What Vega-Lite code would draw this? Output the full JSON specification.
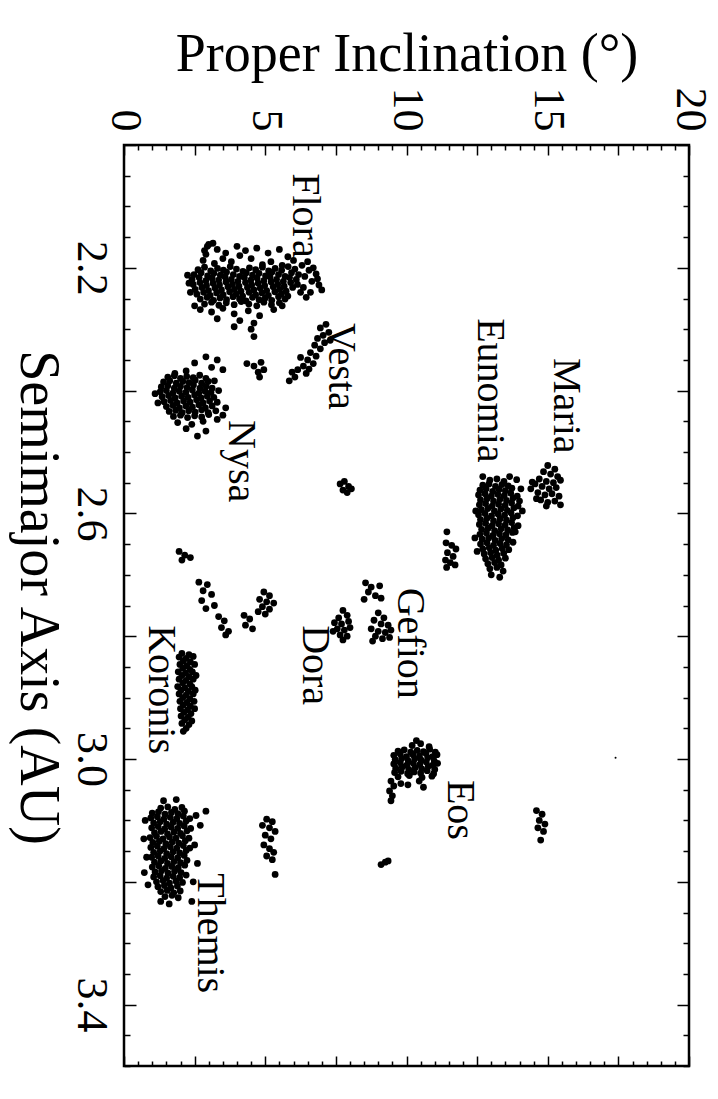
{
"$schema": "https://vega.github.io/schema/vega-lite/v6.json",
"width": 565, "height": 921,
"autosize": {"type": "none"},
"padding": {"left": 124, "top": 145, "right": 29, "bottom": 33},
"background": "white",
"config": {
 "view": {"stroke": "black", "strokeWidth": 2.5},
 "font": "Liberation Serif",
 "axis": {"domain": false, "grid": false, "tickColor": "black", "tickWidth": 1.5, "labelColor": "black", "titleColor": "black", "labelFont": "Liberation Serif", "titleFont": "Liberation Serif", "labelFontSize": 44, "titleFontSize": 54, "titleFontWeight": "normal", "labelOverlap": false, "labelFlush": false, "labelBound": false}
},
"datasets": {
 "speck": [{"inc": 17.4, "a": 2.998}],
 "lbl": [
  {"name": "Flora", "inc": 6.4, "a": 2.046},
  {"name": "Vesta", "inc": 7.68, "a": 2.29},
  {"name": "Maria", "inc": 15.65, "a": 2.347},
  {"name": "Eunomia", "inc": 12.96, "a": 2.282},
  {"name": "Nysa", "inc": 4.14, "a": 2.448},
  {"name": "Gefion", "inc": 10.12, "a": 2.721},
  {"name": "Dora", "inc": 6.76, "a": 2.782},
  {"name": "Koronis", "inc": 1.31, "a": 2.782},
  {"name": "Eos", "inc": 11.89, "a": 3.034},
  {"name": "Themis", "inc": 3.04, "a": 3.186}
 ],
 "pts": [
  {"inc":3.0,"a":2.162},{"inc":3.3,"a":2.170},{"inc":2.9,"a":2.178},{"inc":3.5,"a":2.185},{"inc":4.0,"a":2.165},{"inc":4.3,"a":2.172},{"inc":4.7,"a":2.168},{"inc":5.1,"a":2.176},{"inc":5.5,"a":2.170},{"inc":5.8,"a":2.182},{"inc":4.5,"a":2.185},{"inc":3.8,"a":2.190},{"inc":5.2,"a":2.190},{"inc":6.0,"a":2.188},{"inc":3.2,"a":2.193},{"inc":4.9,"a":2.195},{"inc":5.6,"a":2.196},{"inc":2.8,"a":2.188},{"inc":4.1,"a":2.180},{"inc":3.6,"a":2.176},
  {"inc":2.62,"a":2.203},{"inc":2.85,"a":2.199},{"inc":3.07,"a":2.205},{"inc":3.31,"a":2.201},{"inc":3.52,"a":2.204},{"inc":3.76,"a":2.198},{"inc":3.98,"a":2.202},{"inc":4.21,"a":2.206},{"inc":4.44,"a":2.200},{"inc":4.66,"a":2.203},{"inc":4.90,"a":2.199},{"inc":5.12,"a":2.205},{"inc":5.35,"a":2.201},{"inc":5.58,"a":2.204},{"inc":5.81,"a":2.198},{"inc":6.05,"a":2.202},
  {"inc":2.48,"a":2.211},{"inc":2.73,"a":2.208},{"inc":2.96,"a":2.213},{"inc":3.18,"a":2.209},{"inc":3.41,"a":2.212},{"inc":3.63,"a":2.207},{"inc":3.87,"a":2.211},{"inc":4.09,"a":2.214},{"inc":4.33,"a":2.208},{"inc":4.55,"a":2.212},{"inc":4.78,"a":2.209},{"inc":5.01,"a":2.213},{"inc":5.24,"a":2.207},{"inc":5.47,"a":2.211},{"inc":5.70,"a":2.214},{"inc":5.93,"a":2.208},{"inc":6.18,"a":2.211},
  {"inc":2.41,"a":2.219},{"inc":2.66,"a":2.216},{"inc":2.90,"a":2.221},{"inc":3.12,"a":2.217},{"inc":3.35,"a":2.220},{"inc":3.58,"a":2.215},{"inc":3.80,"a":2.219},{"inc":4.03,"a":2.222},{"inc":4.26,"a":2.216},{"inc":4.49,"a":2.220},{"inc":4.71,"a":2.217},{"inc":4.95,"a":2.221},{"inc":5.17,"a":2.215},{"inc":5.40,"a":2.219},{"inc":5.64,"a":2.222},{"inc":5.86,"a":2.216},{"inc":6.10,"a":2.219},
  {"inc":2.45,"a":2.227},{"inc":2.69,"a":2.224},{"inc":2.92,"a":2.229},{"inc":3.15,"a":2.225},{"inc":3.38,"a":2.228},{"inc":3.61,"a":2.223},{"inc":3.84,"a":2.227},{"inc":4.07,"a":2.230},{"inc":4.30,"a":2.224},{"inc":4.52,"a":2.228},{"inc":4.75,"a":2.225},{"inc":4.98,"a":2.229},{"inc":5.21,"a":2.223},{"inc":5.44,"a":2.227},{"inc":5.67,"a":2.230},{"inc":5.90,"a":2.224},{"inc":6.14,"a":2.227},
  {"inc":2.52,"a":2.235},{"inc":2.76,"a":2.232},{"inc":2.99,"a":2.237},{"inc":3.22,"a":2.233},{"inc":3.45,"a":2.236},{"inc":3.68,"a":2.231},{"inc":3.91,"a":2.235},{"inc":4.14,"a":2.238},{"inc":4.37,"a":2.232},{"inc":4.60,"a":2.236},{"inc":4.82,"a":2.233},{"inc":5.05,"a":2.237},{"inc":5.28,"a":2.231},{"inc":5.51,"a":2.235},{"inc":5.74,"a":2.238},{"inc":5.97,"a":2.232},
  {"inc":2.58,"a":2.243},{"inc":2.82,"a":2.240},{"inc":3.05,"a":2.245},{"inc":3.28,"a":2.241},{"inc":3.51,"a":2.244},{"inc":3.74,"a":2.239},{"inc":3.97,"a":2.243},{"inc":4.20,"a":2.246},{"inc":4.43,"a":2.240},{"inc":4.66,"a":2.244},{"inc":4.88,"a":2.241},{"inc":5.11,"a":2.245},{"inc":5.34,"a":2.239},{"inc":5.57,"a":2.243},{"inc":5.80,"a":2.246},
  {"inc":2.70,"a":2.251},{"inc":2.94,"a":2.248},{"inc":3.17,"a":2.253},{"inc":3.40,"a":2.249},{"inc":3.63,"a":2.252},{"inc":3.86,"a":2.247},{"inc":4.09,"a":2.251},{"inc":4.32,"a":2.254},{"inc":4.55,"a":2.248},{"inc":4.78,"a":2.252},{"inc":5.00,"a":2.249},{"inc":5.23,"a":2.253},{"inc":5.47,"a":2.247},{"inc":5.70,"a":2.251},
  {"inc":2.85,"a":2.259},{"inc":3.10,"a":2.256},{"inc":3.36,"a":2.261},{"inc":3.62,"a":2.257},{"inc":3.90,"a":2.260},{"inc":4.15,"a":2.255},{"inc":4.42,"a":2.259},{"inc":4.70,"a":2.262},{"inc":4.95,"a":2.256},{"inc":5.22,"a":2.260},{"inc":5.50,"a":2.257},
  {"inc":2.7,"a":2.268},{"inc":3.1,"a":2.272},{"inc":3.5,"a":2.266},{"inc":3.9,"a":2.275},{"inc":4.4,"a":2.270},{"inc":4.8,"a":2.278},{"inc":5.3,"a":2.268},{"inc":3.3,"a":2.283},{"inc":4.1,"a":2.286},{"inc":2.5,"a":2.262},{"inc":5.6,"a":2.262},{"inc":4.6,"a":2.290},
  {"inc":6.30,"a":2.196},{"inc":6.55,"a":2.204},{"inc":6.80,"a":2.210},{"inc":6.40,"a":2.214},{"inc":6.65,"a":2.222},{"inc":6.90,"a":2.228},{"inc":6.35,"a":2.232},{"inc":6.60,"a":2.240},{"inc":6.85,"a":2.218},{"inc":6.45,"a":2.248},{"inc":7.00,"a":2.236},{"inc":6.25,"a":2.240},{"inc":6.70,"a":2.200},{"inc":6.50,"a":2.190},
  {"inc":2.30,"a":2.225},{"inc":2.35,"a":2.240},{"inc":2.25,"a":2.212},{"inc":2.95,"a":2.165},{"inc":3.15,"a":2.160},{"inc":2.85,"a":2.172},{"inc":4.5,"a":2.300},{"inc":4.6,"a":2.312},{"inc":3.9,"a":2.296},
  {"inc":7.15,"a":2.292},{"inc":6.95,"a":2.298},{"inc":7.25,"a":2.305},{"inc":7.05,"a":2.310},{"inc":6.85,"a":2.315},{"inc":7.10,"a":2.322},{"inc":6.75,"a":2.326},{"inc":6.95,"a":2.332},{"inc":6.60,"a":2.338},{"inc":6.80,"a":2.344},{"inc":6.50,"a":2.350},{"inc":6.70,"a":2.356},{"inc":6.35,"a":2.360},{"inc":6.15,"a":2.366},{"inc":6.45,"a":2.372},{"inc":6.05,"a":2.378},{"inc":5.85,"a":2.384},{"inc":6.25,"a":2.346},{"inc":7.30,"a":2.318},{"inc":6.55,"a":2.365},{"inc":5.95,"a":2.370},
  {"inc":4.35,"a":2.356},{"inc":4.60,"a":2.360},{"inc":4.85,"a":2.354},{"inc":4.95,"a":2.366},{"inc":4.75,"a":2.370},{"inc":4.80,"a":2.378},
  {"inc":2.9,"a":2.345},{"inc":3.3,"a":2.350},{"inc":2.5,"a":2.355},{"inc":3.1,"a":2.362},{"inc":2.2,"a":2.368},{"inc":3.5,"a":2.366},{"inc":1.8,"a":2.372},
  {"inc":1.55,"a":2.378},{"inc":1.78,"a":2.376},{"inc":2.00,"a":2.380},{"inc":2.22,"a":2.377},{"inc":2.45,"a":2.379},{"inc":2.68,"a":2.375},{"inc":2.90,"a":2.380},
  {"inc":1.40,"a":2.386},{"inc":1.62,"a":2.384},{"inc":1.85,"a":2.388},{"inc":2.08,"a":2.385},{"inc":2.30,"a":2.387},{"inc":2.52,"a":2.383},{"inc":2.75,"a":2.388},{"inc":2.98,"a":2.385},{"inc":3.20,"a":2.384},
  {"inc":1.32,"a":2.394},{"inc":1.55,"a":2.392},{"inc":1.78,"a":2.396},{"inc":2.00,"a":2.393},{"inc":2.23,"a":2.395},{"inc":2.46,"a":2.391},{"inc":2.69,"a":2.396},{"inc":2.91,"a":2.393},{"inc":3.12,"a":2.396},
  {"inc":1.28,"a":2.402},{"inc":1.50,"a":2.400},{"inc":1.73,"a":2.404},{"inc":1.96,"a":2.401},{"inc":2.19,"a":2.403},{"inc":2.42,"a":2.399},{"inc":2.65,"a":2.404},{"inc":2.87,"a":2.401},{"inc":3.08,"a":2.403},{"inc":3.35,"a":2.400},
  {"inc":1.35,"a":2.410},{"inc":1.58,"a":2.408},{"inc":1.81,"a":2.412},{"inc":2.04,"a":2.409},{"inc":2.27,"a":2.411},{"inc":2.50,"a":2.407},{"inc":2.73,"a":2.412},{"inc":2.95,"a":2.409},{"inc":3.18,"a":2.411},
  {"inc":1.42,"a":2.418},{"inc":1.65,"a":2.416},{"inc":1.88,"a":2.420},{"inc":2.11,"a":2.417},{"inc":2.34,"a":2.419},{"inc":2.57,"a":2.415},{"inc":2.80,"a":2.420},{"inc":3.03,"a":2.417},{"inc":3.30,"a":2.419},
  {"inc":1.50,"a":2.426},{"inc":1.73,"a":2.424},{"inc":1.96,"a":2.428},{"inc":2.19,"a":2.425},{"inc":2.42,"a":2.427},{"inc":2.65,"a":2.423},{"inc":2.88,"a":2.428},{"inc":3.12,"a":2.425},
  {"inc":1.60,"a":2.434},{"inc":1.83,"a":2.432},{"inc":2.06,"a":2.436},{"inc":2.29,"a":2.433},{"inc":2.52,"a":2.435},{"inc":2.75,"a":2.431},{"inc":2.98,"a":2.436},{"inc":3.25,"a":2.433},
  {"inc":1.75,"a":2.442},{"inc":2.00,"a":2.440},{"inc":2.25,"a":2.444},{"inc":2.50,"a":2.441},{"inc":2.75,"a":2.443},{"inc":3.00,"a":2.439},
  {"inc":1.9,"a":2.452},{"inc":2.4,"a":2.455},{"inc":2.8,"a":2.450},{"inc":3.3,"a":2.447},{"inc":2.2,"a":2.462},{"inc":2.9,"a":2.466},{"inc":3.5,"a":2.440},{"inc":1.2,"a":2.420},{"inc":1.1,"a":2.405},{"inc":3.6,"a":2.428},{"inc":2.6,"a":2.474},
  {"inc":7.65,"a":2.552},{"inc":7.80,"a":2.548},{"inc":7.95,"a":2.556},{"inc":7.75,"a":2.562},{"inc":7.90,"a":2.566},{"inc":8.05,"a":2.560},
  {"inc":15.0,"a":2.522},{"inc":15.25,"a":2.528},{"inc":14.85,"a":2.532},{"inc":15.10,"a":2.536},{"inc":15.35,"a":2.540},{"inc":14.70,"a":2.544},{"inc":14.95,"a":2.548},{"inc":15.20,"a":2.550},{"inc":15.45,"a":2.546},{"inc":14.55,"a":2.552},{"inc":14.80,"a":2.556},{"inc":15.05,"a":2.560},{"inc":15.30,"a":2.558},{"inc":14.40,"a":2.560},{"inc":14.65,"a":2.566},{"inc":14.90,"a":2.570},{"inc":15.15,"a":2.568},{"inc":15.40,"a":2.572},{"inc":14.75,"a":2.578},{"inc":15.00,"a":2.582},{"inc":15.25,"a":2.580},{"inc":14.60,"a":2.576},{"inc":15.45,"a":2.586},{"inc":14.95,"a":2.588},{"inc":14.45,"a":2.549},
  {"inc":12.95,"a":2.546},{"inc":13.20,"a":2.544},{"inc":13.45,"a":2.548},
  {"inc":12.70,"a":2.554},{"inc":12.92,"a":2.552},{"inc":13.15,"a":2.556},{"inc":13.38,"a":2.553},{"inc":13.60,"a":2.555},
  {"inc":12.60,"a":2.562},{"inc":12.82,"a":2.560},{"inc":13.05,"a":2.564},{"inc":13.28,"a":2.561},{"inc":13.50,"a":2.563},{"inc":13.73,"a":2.559},
  {"inc":12.55,"a":2.570},{"inc":12.78,"a":2.568},{"inc":13.00,"a":2.572},{"inc":13.23,"a":2.569},{"inc":13.46,"a":2.571},{"inc":13.69,"a":2.567},{"inc":13.92,"a":2.572},
  {"inc":12.62,"a":2.578},{"inc":12.85,"a":2.576},{"inc":13.08,"a":2.580},{"inc":13.31,"a":2.577},{"inc":13.54,"a":2.579},{"inc":13.77,"a":2.575},{"inc":14.00,"a":2.580},
  {"inc":12.58,"a":2.586},{"inc":12.80,"a":2.584},{"inc":13.03,"a":2.588},{"inc":13.26,"a":2.585},{"inc":13.49,"a":2.587},{"inc":13.72,"a":2.583},{"inc":13.95,"a":2.588},
  {"inc":12.65,"a":2.594},{"inc":12.88,"a":2.592},{"inc":13.11,"a":2.596},{"inc":13.34,"a":2.593},{"inc":13.57,"a":2.595},{"inc":13.80,"a":2.591},
  {"inc":12.55,"a":2.602},{"inc":12.78,"a":2.600},{"inc":13.01,"a":2.604},{"inc":13.24,"a":2.601},{"inc":13.47,"a":2.603},{"inc":13.70,"a":2.599},{"inc":13.93,"a":2.604},
  {"inc":12.62,"a":2.610},{"inc":12.85,"a":2.608},{"inc":13.08,"a":2.612},{"inc":13.31,"a":2.609},{"inc":13.54,"a":2.611},{"inc":13.77,"a":2.607},
  {"inc":12.58,"a":2.618},{"inc":12.80,"a":2.616},{"inc":13.03,"a":2.620},{"inc":13.26,"a":2.617},{"inc":13.49,"a":2.619},{"inc":13.72,"a":2.615},{"inc":13.95,"a":2.620},
  {"inc":12.66,"a":2.626},{"inc":12.89,"a":2.624},{"inc":13.12,"a":2.628},{"inc":13.35,"a":2.625},{"inc":13.58,"a":2.627},{"inc":13.81,"a":2.623},
  {"inc":12.60,"a":2.634},{"inc":12.83,"a":2.632},{"inc":13.06,"a":2.636},{"inc":13.29,"a":2.633},{"inc":13.52,"a":2.635},{"inc":13.75,"a":2.631},
  {"inc":12.68,"a":2.642},{"inc":12.91,"a":2.640},{"inc":13.14,"a":2.644},{"inc":13.37,"a":2.641},{"inc":13.60,"a":2.643},
  {"inc":12.62,"a":2.650},{"inc":12.85,"a":2.648},{"inc":13.08,"a":2.652},{"inc":13.31,"a":2.649},{"inc":13.54,"a":2.651},{"inc":13.77,"a":2.647},
  {"inc":12.70,"a":2.658},{"inc":12.93,"a":2.656},{"inc":13.16,"a":2.660},{"inc":13.39,"a":2.657},{"inc":13.62,"a":2.659},
  {"inc":12.75,"a":2.666},{"inc":12.98,"a":2.664},{"inc":13.21,"a":2.668},{"inc":13.44,"a":2.665},
  {"inc":12.80,"a":2.674},{"inc":13.03,"a":2.672},{"inc":13.26,"a":2.676},{"inc":13.50,"a":2.673},
  {"inc":12.88,"a":2.682},{"inc":13.12,"a":2.680},{"inc":13.35,"a":2.684},
  {"inc":12.95,"a":2.690},{"inc":13.20,"a":2.688},{"inc":13.42,"a":2.694},
  {"inc":13.0,"a":2.700},{"inc":13.3,"a":2.704},{"inc":12.45,"a":2.596},{"inc":12.42,"a":2.640},{"inc":14.10,"a":2.596},{"inc":14.05,"a":2.560},{"inc":13.90,"a":2.545},{"inc":12.50,"a":2.662},{"inc":13.85,"a":2.630},{"inc":12.70,"a":2.540},{"inc":13.65,"a":2.540},
  {"inc":11.43,"a":2.630},{"inc":11.40,"a":2.648},{"inc":11.60,"a":2.652},{"inc":11.75,"a":2.658},{"inc":11.45,"a":2.664},{"inc":11.65,"a":2.670},{"inc":11.38,"a":2.676},{"inc":11.55,"a":2.680},{"inc":11.72,"a":2.684},{"inc":11.42,"a":2.688},
  {"inc":8.55,"a":2.713},{"inc":8.75,"a":2.720},{"inc":9.05,"a":2.718},{"inc":8.65,"a":2.728},{"inc":8.90,"a":2.734},{"inc":9.10,"a":2.738},{"inc":8.50,"a":2.740},
  {"inc":9.0,"a":2.762},{"inc":9.20,"a":2.770},{"inc":8.85,"a":2.774},{"inc":9.10,"a":2.780},{"inc":9.35,"a":2.782},{"inc":8.75,"a":2.788},{"inc":9.00,"a":2.792},{"inc":9.25,"a":2.794},{"inc":9.45,"a":2.790},{"inc":8.90,"a":2.800},{"inc":9.15,"a":2.804},{"inc":8.80,"a":2.808},{"inc":9.40,"a":2.802},
  {"inc":7.75,"a":2.758},{"inc":7.90,"a":2.766},{"inc":7.60,"a":2.770},{"inc":7.45,"a":2.778},{"inc":7.70,"a":2.780},{"inc":7.95,"a":2.776},{"inc":7.55,"a":2.788},{"inc":7.80,"a":2.790},{"inc":8.00,"a":2.786},{"inc":7.65,"a":2.798},{"inc":7.90,"a":2.800},{"inc":7.40,"a":2.792},{"inc":7.75,"a":2.806},
  {"inc":1.95,"a":2.662},{"inc":2.15,"a":2.668},{"inc":2.35,"a":2.672},{"inc":2.05,"a":2.676},
  {"inc":2.65,"a":2.712},{"inc":2.95,"a":2.716},{"inc":2.80,"a":2.726},{"inc":3.10,"a":2.732},{"inc":2.75,"a":2.742},{"inc":3.20,"a":2.750},{"inc":2.90,"a":2.755},
  {"inc":3.35,"a":2.768},{"inc":3.55,"a":2.775},{"inc":3.45,"a":2.786},{"inc":3.70,"a":2.792},{"inc":3.60,"a":2.798},
  {"inc":4.25,"a":2.766},{"inc":4.45,"a":2.772},{"inc":4.30,"a":2.782},{"inc":4.55,"a":2.788},
  {"inc":4.95,"a":2.728},{"inc":5.15,"a":2.734},{"inc":4.80,"a":2.740},{"inc":5.05,"a":2.744},{"inc":5.30,"a":2.746},{"inc":4.90,"a":2.752},{"inc":5.15,"a":2.756},{"inc":4.75,"a":2.760},{"inc":5.00,"a":2.764},
  {"inc":2.05,"a":2.828},{"inc":2.30,"a":2.830},{"inc":1.95,"a":2.834},{"inc":2.20,"a":2.836},{"inc":2.45,"a":2.833},{"inc":2.10,"a":2.840},{"inc":2.35,"a":2.842},{"inc":1.98,"a":2.846},{"inc":2.22,"a":2.848},{"inc":2.50,"a":2.846},{"inc":2.08,"a":2.852},{"inc":2.33,"a":2.854},{"inc":1.92,"a":2.858},{"inc":2.18,"a":2.860},{"inc":2.42,"a":2.858},{"inc":2.05,"a":2.864},{"inc":2.30,"a":2.866},{"inc":2.55,"a":2.864},{"inc":1.95,"a":2.870},{"inc":2.20,"a":2.872},{"inc":2.45,"a":2.870},{"inc":2.08,"a":2.876},{"inc":2.33,"a":2.878},{"inc":1.90,"a":2.882},{"inc":2.15,"a":2.884},{"inc":2.40,"a":2.882},{"inc":2.02,"a":2.888},{"inc":2.28,"a":2.890},{"inc":2.52,"a":2.888},{"inc":1.95,"a":2.894},{"inc":2.20,"a":2.896},{"inc":2.45,"a":2.894},{"inc":2.08,"a":2.900},{"inc":2.33,"a":2.902},{"inc":1.98,"a":2.906},{"inc":2.23,"a":2.908},{"inc":2.48,"a":2.906},{"inc":2.10,"a":2.912},{"inc":2.35,"a":2.914},{"inc":2.00,"a":2.918},{"inc":2.25,"a":2.920},{"inc":2.50,"a":2.918},{"inc":2.12,"a":2.924},{"inc":2.37,"a":2.926},{"inc":2.02,"a":2.930},{"inc":2.27,"a":2.932},{"inc":2.15,"a":2.936},{"inc":2.40,"a":2.938},{"inc":2.05,"a":2.942},{"inc":2.30,"a":2.944},{"inc":2.20,"a":2.950},{"inc":2.10,"a":2.955},
  {"inc":9.70,"a":2.987},{"inc":9.92,"a":2.985},{"inc":10.15,"a":2.989},{"inc":10.38,"a":2.986},{"inc":10.60,"a":2.988},{"inc":10.82,"a":2.984},{"inc":11.02,"a":2.989},
  {"inc":9.55,"a":2.994},{"inc":9.78,"a":2.992},{"inc":10.00,"a":2.996},{"inc":10.23,"a":2.993},{"inc":10.46,"a":2.995},{"inc":10.69,"a":2.991},{"inc":10.92,"a":2.996},{"inc":11.08,"a":2.993},
  {"inc":9.60,"a":3.001},{"inc":9.83,"a":2.999},{"inc":10.06,"a":3.003},{"inc":10.29,"a":3.000},{"inc":10.52,"a":3.002},{"inc":10.75,"a":2.998},{"inc":10.98,"a":3.003},
  {"inc":9.55,"a":3.008},{"inc":9.78,"a":3.006},{"inc":10.01,"a":3.010},{"inc":10.24,"a":3.007},{"inc":10.47,"a":3.009},{"inc":10.70,"a":3.005},{"inc":10.93,"a":3.010},{"inc":11.10,"a":3.007},
  {"inc":9.62,"a":3.015},{"inc":9.85,"a":3.013},{"inc":10.08,"a":3.017},{"inc":10.31,"a":3.014},{"inc":10.54,"a":3.016},{"inc":10.77,"a":3.012},{"inc":11.00,"a":3.017},
  {"inc":9.58,"a":3.022},{"inc":9.81,"a":3.020},{"inc":10.04,"a":3.024},{"inc":10.27,"a":3.021},{"inc":10.50,"a":3.023},{"inc":10.73,"a":3.019},{"inc":10.96,"a":3.024},
  {"inc":9.70,"a":3.029},{"inc":10.10,"a":3.027},{"inc":10.55,"a":3.030},{"inc":10.90,"a":3.028},
  {"inc":10.20,"a":2.978},{"inc":10.50,"a":2.975},{"inc":10.80,"a":2.980},{"inc":10.35,"a":2.970},
  {"inc":9.45,"a":3.036},{"inc":9.55,"a":3.044},{"inc":9.40,"a":3.052},{"inc":9.50,"a":3.060},{"inc":9.45,"a":3.068},{"inc":9.80,"a":3.040},{"inc":10.05,"a":3.042},{"inc":10.45,"a":3.036},{"inc":10.60,"a":3.046},
  {"inc":5.05,"a":3.098},{"inc":5.25,"a":3.102},{"inc":4.90,"a":3.108},{"inc":5.15,"a":3.112},{"inc":5.35,"a":3.118},{"inc":5.00,"a":3.124},{"inc":5.20,"a":3.130},{"inc":4.95,"a":3.140},{"inc":5.15,"a":3.146},{"inc":5.30,"a":3.152},{"inc":5.05,"a":3.158},{"inc":5.25,"a":3.164},{"inc":5.35,"a":3.188},
  {"inc":9.25,"a":3.168},{"inc":9.10,"a":3.172},{"inc":9.35,"a":3.166},
  {"inc":14.60,"a":3.084},{"inc":14.80,"a":3.090},{"inc":14.70,"a":3.100},{"inc":14.90,"a":3.106},{"inc":14.65,"a":3.112},{"inc":14.85,"a":3.118},{"inc":14.75,"a":3.132},
  {"inc":1.30,"a":3.080},{"inc":1.55,"a":3.078},{"inc":1.80,"a":3.082},{"inc":2.05,"a":3.079},
  {"inc":1.00,"a":3.088},{"inc":1.22,"a":3.086},{"inc":1.45,"a":3.090},{"inc":1.68,"a":3.087},{"inc":1.91,"a":3.089},{"inc":2.14,"a":3.085},
  {"inc":0.95,"a":3.096},{"inc":1.18,"a":3.094},{"inc":1.41,"a":3.098},{"inc":1.64,"a":3.095},{"inc":1.87,"a":3.097},{"inc":2.10,"a":3.093},{"inc":2.33,"a":3.097},
  {"inc":1.05,"a":3.104},{"inc":1.28,"a":3.102},{"inc":1.51,"a":3.106},{"inc":1.74,"a":3.103},{"inc":1.97,"a":3.105},{"inc":2.20,"a":3.101},
  {"inc":0.98,"a":3.112},{"inc":1.21,"a":3.110},{"inc":1.44,"a":3.114},{"inc":1.67,"a":3.111},{"inc":1.90,"a":3.113},{"inc":2.13,"a":3.109},{"inc":2.36,"a":3.113},
  {"inc":1.08,"a":3.120},{"inc":1.31,"a":3.118},{"inc":1.54,"a":3.122},{"inc":1.77,"a":3.119},{"inc":2.00,"a":3.121},{"inc":2.23,"a":3.117},
  {"inc":0.92,"a":3.128},{"inc":1.15,"a":3.126},{"inc":1.38,"a":3.130},{"inc":1.61,"a":3.127},{"inc":1.84,"a":3.129},{"inc":2.07,"a":3.125},{"inc":2.30,"a":3.129},
  {"inc":1.02,"a":3.136},{"inc":1.25,"a":3.134},{"inc":1.48,"a":3.138},{"inc":1.71,"a":3.135},{"inc":1.94,"a":3.137},{"inc":2.17,"a":3.133},
  {"inc":0.95,"a":3.144},{"inc":1.18,"a":3.142},{"inc":1.41,"a":3.146},{"inc":1.64,"a":3.143},{"inc":1.87,"a":3.145},{"inc":2.10,"a":3.141},{"inc":2.33,"a":3.145},
  {"inc":1.05,"a":3.152},{"inc":1.28,"a":3.150},{"inc":1.51,"a":3.154},{"inc":1.74,"a":3.151},{"inc":1.97,"a":3.153},{"inc":2.20,"a":3.149},
  {"inc":0.98,"a":3.160},{"inc":1.21,"a":3.158},{"inc":1.44,"a":3.162},{"inc":1.67,"a":3.159},{"inc":1.90,"a":3.161},{"inc":2.13,"a":3.157},
  {"inc":1.08,"a":3.168},{"inc":1.31,"a":3.166},{"inc":1.54,"a":3.170},{"inc":1.77,"a":3.167},{"inc":2.00,"a":3.169},{"inc":2.23,"a":3.165},
  {"inc":1.00,"a":3.176},{"inc":1.23,"a":3.174},{"inc":1.46,"a":3.178},{"inc":1.69,"a":3.175},{"inc":1.92,"a":3.177},{"inc":2.15,"a":3.173},
  {"inc":1.10,"a":3.184},{"inc":1.33,"a":3.182},{"inc":1.56,"a":3.186},{"inc":1.79,"a":3.183},{"inc":2.02,"a":3.185},
  {"inc":1.05,"a":3.192},{"inc":1.28,"a":3.190},{"inc":1.51,"a":3.194},{"inc":1.74,"a":3.191},{"inc":1.97,"a":3.193},{"inc":2.20,"a":3.189},
  {"inc":1.15,"a":3.200},{"inc":1.38,"a":3.198},{"inc":1.61,"a":3.202},{"inc":1.84,"a":3.199},{"inc":2.07,"a":3.201},
  {"inc":1.20,"a":3.208},{"inc":1.43,"a":3.206},{"inc":1.66,"a":3.210},{"inc":1.89,"a":3.207},
  {"inc":1.30,"a":3.216},{"inc":1.53,"a":3.214},{"inc":1.76,"a":3.218},{"inc":1.99,"a":3.215},
  {"inc":1.45,"a":3.224},{"inc":1.70,"a":3.222},{"inc":1.92,"a":3.226},
  {"inc":0.75,"a":3.100},{"inc":0.70,"a":3.130},{"inc":0.80,"a":3.160},{"inc":0.72,"a":3.185},{"inc":2.55,"a":3.092},{"inc":2.70,"a":3.108},{"inc":2.50,"a":3.140},{"inc":2.60,"a":3.170},{"inc":2.45,"a":3.200},{"inc":1.40,"a":3.068},{"inc":1.85,"a":3.066},{"inc":2.90,"a":3.085},{"inc":2.40,"a":3.232},{"inc":1.60,"a":3.236},{"inc":1.30,"a":3.232},{"inc":0.85,"a":3.205}
 ]
},
"layer": [
 {
  "data": {"name": "pts"},
  "mark": {"type": "circle", "size": 46, "color": "black", "opacity": 1},
  "encoding": {
   "x": {"field": "inc", "type": "quantitative", "scale": {"domain": [0, 20], "nice": false, "zero": false},
    "axis": {"orient": "top", "values": [0,0.5,1,1.5,2,2.5,3,3.5,4,4.5,5,5.5,6,6.5,7,7.5,8,8.5,9,9.5,10,10.5,11,11.5,12,12.5,13,13.5,14,14.5,15,15.5,16,16.5,17,17.5,18,18.5,19,19.5,20],
     "labelExpr": "datum.value % 5 === 0 ? format(datum.value, 'd') : ''",
     "labelAngle": 90, "labelAlign": "right", "labelBaseline": "middle", "labelPadding": 24,
     "tickSize": {"condition": {"test": "abs(datum.value/2.5 - round(datum.value/2.5)) < 0.01", "value": -10}, "value": -5},
     "title": "Proper Inclination (°)", "titleY": -75, "titleBaseline": "alphabetic", "titleAlign": "center"}},
   "y": {"field": "a", "type": "quantitative", "scale": {"domain": [2.0, 3.5], "nice": false, "zero": false, "reverse": true},
    "axis": {"orient": "left", "values": [2,2.05,2.1,2.15,2.2,2.25,2.3,2.35,2.4,2.45,2.5,2.55,2.6,2.65,2.7,2.75,2.8,2.85,2.9,2.95,3,3.05,3.1,3.15,3.2,3.25,3.3,3.35,3.4,3.45,3.5],
     "labelExpr": "(abs(datum.value-2.2) < 0.001 || abs(datum.value-2.6) < 0.001 || abs(datum.value-3.0) < 0.001 || abs(datum.value-3.4) < 0.001) ? format(datum.value, '.1f') : ''",
     "labelAngle": 90, "labelAlign": "center", "labelBaseline": "top", "labelPadding": 24,
     "tickSize": {"condition": {"test": "abs(datum.value*5 - round(datum.value*5)) < 0.01", "value": -12}, "value": -6},
     "title": "Semimajor Axis (AU)", "titleAngle": 90, "titleX": -104, "titleY": 452, "titleBaseline": "alphabetic", "titleAlign": "center", "titleFontSize": 56}}
  }
 },
 {
  "data": {"name": "speck"},
  "mark": {"type": "circle", "size": 4, "color": "black", "opacity": 1},
  "encoding": {
   "x": {"field": "inc", "type": "quantitative", "axis": null},
   "y": {"field": "a", "type": "quantitative", "axis": null}
  }
 },
 {
  "data": {"name": "lbl"},
  "mark": {"type": "text", "angle": 90, "align": "left", "baseline": "middle", "fontSize": 40, "font": "Liberation Serif", "color": "black"},
  "encoding": {
   "x": {"field": "inc", "type": "quantitative",
    "axis": {"orient": "bottom", "values": [0,0.5,1,1.5,2,2.5,3,3.5,4,4.5,5,5.5,6,6.5,7,7.5,8,8.5,9,9.5,10,10.5,11,11.5,12,12.5,13,13.5,14,14.5,15,15.5,16,16.5,17,17.5,18,18.5,19,19.5,20], "labels": false, "title": null,
     "tickSize": {"condition": {"test": "abs(datum.value/2.5 - round(datum.value/2.5)) < 0.01", "value": -10}, "value": -5}}},
   "y": {"field": "a", "type": "quantitative",
    "axis": {"orient": "right", "values": [2,2.05,2.1,2.15,2.2,2.25,2.3,2.35,2.4,2.45,2.5,2.55,2.6,2.65,2.7,2.75,2.8,2.85,2.9,2.95,3,3.05,3.1,3.15,3.2,3.25,3.3,3.35,3.4,3.45,3.5], "labels": false, "title": null,
     "tickSize": {"condition": {"test": "abs(datum.value*5 - round(datum.value*5)) < 0.01", "value": -12}, "value": -6}}},
   "text": {"field": "name"}
  }
 }
],
"resolve": {"axis": {"x": "independent", "y": "independent"}}
}
